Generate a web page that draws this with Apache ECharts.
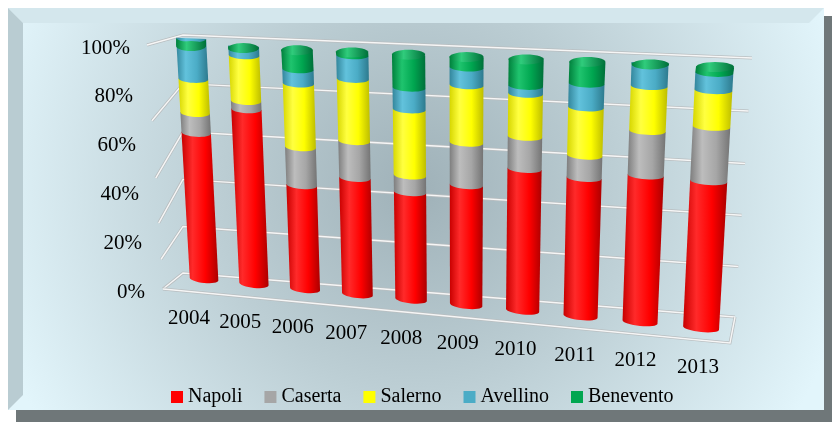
<!DOCTYPE html>
<html>
<head>
<meta charset="utf-8">
<script src="https://cdn.jsdelivr.net/npm/echarts@6/dist/echarts.min.js"></script>
<style>
  html, body { margin: 0; padding: 0; background: #fff; }
  #main { width: 832px; height: 422px; }
</style>
</head>
<body>
<div id="main"></div>
<script>
// dati: quota percentuale per provincia
var years = ['2004', '2005', '2006', '2007', '2008', '2009', '2010', '2011', '2012', '2013'];
var cityNames = ['Napoli', 'Caserta', 'Salerno', 'Avellino', 'Benevento'];
var napoli    = [61.6, 72.4, 43.2, 47.7, 43.6, 48.0, 55.8, 53.9, 56.4, 55.8];
var caserta   = [ 8.1,  3.3, 15.3, 14.6,  6.6, 16.4, 12.2,  8.4, 16.4, 19.8];
var salerno   = [13.7, 18.0, 25.2, 24.2, 25.7, 21.8, 16.1, 17.9, 16.3, 13.1];
var avellino  = [16.1,  3.6,  5.5,  9.0,  8.3,  6.6,  2.9,  8.7,  8.3,  6.1];
var benevento = [ 0.5,  2.7, 10.8,  4.5, 15.8,  7.2, 13.0, 11.1,  2.6,  5.2];
var yTicks = [0, 20, 40, 60, 80, 100];

var cityValues = [napoli, caserta, salerno, avellino, benevento];
var baseColors = ['#ff0000', '#a6a6a6', '#ffff00', '#4bacc6', '#00a650'];
var shades = [
    ['#c80000', '#ff2a2a', '#ff0000', '#ac0000'],
    ['#7e7e7e', '#bdbdbd', '#a6a6a6', '#747474'],
    ['#d6d600', '#ffff40', '#ffff00', '#bdbd00'],
    ['#33869c', '#62c2dc', '#4bacc6', '#2d7a8e'],
    ['#00803c', '#1fc46e', '#00a650', '#00703a']
];
var caps = ['#ff5050', '#c8c8c8', '#ffff80', '#7cd0e6', '#30cc7c'];
var FONT = '"Liberation Serif", "Times New Roman", serif';

// prospettiva (vista 3D di Excel): quadrilateri sullo schermo
var barQuad  = [[204, 283], [701, 332], [715, 62], [191, 41]];
var backWall = [[183, 273], [735, 317], [752, 58], [183, 35]];
var leftWall = [[163, 289], [183, 273], [183, 35], [147, 45]];
var floorFrontRight = [730, 343];
var RY = 4;
var CAP_RY = 5;
var HALF = 0.29;

function homography(q) {
    var x0 = q[0][0], y0 = q[0][1], x1 = q[1][0], y1 = q[1][1];
    var x2 = q[2][0], y2 = q[2][1], x3 = q[3][0], y3 = q[3][1];
    var dx1 = x1 - x2, dx2 = x3 - x2, dx3 = x0 - x1 + x2 - x3;
    var dy1 = y1 - y2, dy2 = y3 - y2, dy3 = y0 - y1 + y2 - y3;
    var det = dx1 * dy2 - dx2 * dy1;
    var g = (dx3 * dy2 - dx2 * dy3) / det, h = (dx1 * dy3 - dx3 * dy1) / det;
    var a = x1 - x0 + g * x1, b = x3 - x0 + h * x3;
    var d = y1 - y0 + g * y1, e = y3 - y0 + h * y3;
    return function (u, w) {
        var z = g * u + h * w + 1;
        return [(a * u + b * w + x0) / z, (d * u + e * w + y0) / z];
    };
}
var barH = homography(barQuad);
var backH = homography(backWall);
var leftH = homography(leftWall);

// posizione normalizzata dagli assi (categoria, valore)
function toUnit(api, c, v) {
    var p = api.coord([c, v]);
    var o = api.coord([0, 0]);
    var q = api.coord([years.length - 1, 100]);
    return [(p[0] - o[0]) / (q[0] - o[0]), (o[1] - p[1]) / (o[1] - q[1])];
}

function shadeFill(k) {
    var s = shades[k];
    return new echarts.graphic.LinearGradient(0, 0, 1, 0, [
        {offset: 0, color: s[0]}, {offset: 0.3, color: s[1]},
        {offset: 0.65, color: s[2]}, {offset: 1, color: s[3]}
    ]);
}

function makeRender(k) {
    return function (params, api) {
        var c = api.value(0), v0 = api.value(1), v1 = api.value(2), isTop = api.value(3);
        var a = toUnit(api, c, v0), b = toUnit(api, c, v1);
        var du = HALF / (years.length - 1);
        var L0 = barH(a[0] - du, a[1]), R0 = barH(a[0] + du, a[1]);
        var L1 = barH(b[0] - du, b[1]), R1 = barH(b[0] + du, b[1]);
        var off = isTop ? CAP_RY : -RY;
        var pts = [[L1[0], L1[1] + off], [R1[0], R1[1] + off]];
        var n = 16, i, th, f;
        for (i = 0; i <= n; i++) {
            th = Math.PI * i / n;
            f = (1 - Math.cos(th)) / 2;
            pts.push([R0[0] + (L0[0] - R0[0]) * f,
                      R0[1] + (L0[1] - R0[1]) * f - RY + RY * Math.sin(th)]);
        }
        var children = [{type: 'polygon', shape: {points: pts}, style: {fill: shadeFill(k)}}];
        if (isTop) {
            var cap = [];
            var cx = (L1[0] + R1[0]) / 2, cy = (L1[1] + R1[1]) / 2 + CAP_RY, rx = (R1[0] - L1[0]) / 2;
            for (i = 0; i < 28; i++) {
                th = 2 * Math.PI * i / 28;
                cap.push([cx + rx * Math.cos(th), cy + CAP_RY * Math.sin(th)]);
            }
            children.push({
                type: 'polygon', shape: {points: cap},
                style: {fill: new echarts.graphic.LinearGradient(0, 0, 1, 0, [
                    {offset: 0, color: shades[k][0]}, {offset: 0.35, color: caps[k]},
                    {offset: 1, color: shades[k][3]}])}
            });
        }
        return {type: 'group', children: children};
    };
}

function renderGrid(params, api) {
    var v = api.value(1);
    var p = api.coord([0, v]), o = api.coord([0, 0]), t = api.coord([0, 100]);
    var w = (o[1] - p[1]) / (o[1] - t[1]);
    var lines = [[leftH(0, w), backH(0, w), backH(1, w)]];
    if (v === 0) {
        lines.push([leftH(0, 0), floorFrontRight, backH(1, 0)]);
    }
    var children = [];
    lines.forEach(function (pts) {
        children.push({type: 'polyline', shape: {points: pts}, style: {stroke: '#b9bec0', lineWidth: 3, fill: null}});
        children.push({type: 'polyline', shape: {points: pts}, style: {stroke: '#f6f6f6', lineWidth: 1.4, fill: null}});
    });
    return {type: 'group', children: children};
}

function renderYear(params, api) {
    var u = toUnit(api, api.value(0), 0)[0];
    var p = barH(u, 0);
    return {
        type: 'text',
        x: p[0] - 15 + 12 * u,
        y: p[1] + 35,
        style: {
            text: years[params.dataIndex], fill: '#000',
            font: '21px ' + FONT, align: 'center', verticalAlign: 'middle'
        }
    };
}

var series = [{
    type: 'custom', name: 'grid', xAxisIndex: 1, yAxisIndex: 1, silent: true, z: 1,
    data: yTicks.map(function (v) { return [0, v]; }),
    renderItem: renderGrid
}];

cityNames.forEach(function (name, k) {
    var data = years.map(function (y, i) {
        var total = 0, start = 0, j;
        for (j = 0; j < cityValues.length; j++) total += cityValues[j][i];
        for (j = 0; j < k; j++) start += cityValues[j][i];
        return [i, start / total * 100, (start + cityValues[k][i]) / total * 100,
                k === cityNames.length - 1 ? 1 : 0];
    });
    series.push({
        type: 'custom', name: name, xAxisIndex: 0, yAxisIndex: 0, z: 2,
        itemStyle: {color: baseColors[k]},
        encode: {x: 0, y: [1, 2]},
        data: data,
        renderItem: makeRender(k)
    });
});

series.push({
    type: 'custom', name: 'years', xAxisIndex: 0, yAxisIndex: 0, silent: true, z: 3,
    data: years.map(function (y, i) { return [i, 0]; }),
    renderItem: renderYear
});

var rich = {};
yTicks.forEach(function (v) {
    rich['t' + v] = {fontFamily: FONT, fontSize: 21, color: '#000', padding: [0, v * 0.15, 0, 0]};
});

var chart = echarts.init(document.getElementById('main'));
chart.setOption({
    animation: false,
    graphic: [
        {type: 'rect', z: -10, shape: {x: 16, y: 16, width: 816, height: 406}, style: {fill: '#6f7779'}},
        {type: 'rect', z: -9, shape: {x: 8, y: 8, width: 816, height: 402},
         style: {fill: new echarts.graphic.RadialGradient(0.5, 0.45, 1.1, [
             {offset: 0, color: '#9fb1b8'}, {offset: 0.45, color: '#bcced4'}, {offset: 1, color: '#e2f5fb'}])}},
        {type: 'polygon', z: -8, shape: {points: [[8, 8], [824, 8], [809, 23], [23, 23]]}, style: {fill: '#d4e7ed'}},
        {type: 'polygon', z: -8, shape: {points: [[8, 8], [23, 23], [23, 395], [8, 410]]}, style: {fill: '#b9ccd2'}}
    ],
    legend: {
        data: cityNames, left: 166, top: 382, icon: 'rect',
        itemWidth: 12, itemHeight: 12, itemGap: 22,
        textStyle: {fontFamily: FONT, fontSize: 20, color: '#000'}
    },
    grid: [
        {left: 176, right: 104, top: 41, bottom: 139},
        {left: 150, right: 100, top: 48, bottom: 130}
    ],
    xAxis: [
        {type: 'category', data: years, gridIndex: 0, show: false},
        {type: 'category', data: years, gridIndex: 1, show: false}
    ],
    yAxis: [
        {type: 'value', min: 0, max: 100, gridIndex: 0, show: false},
        {type: 'value', min: 0, max: 100, interval: 20, gridIndex: 1,
         axisLine: {show: false}, axisTick: {show: false}, splitLine: {show: false},
         axisLabel: {margin: 5, formatter: function (v) { return '{t' + v + '|' + v + '%}'; }, rich: rich}}
    ],
    series: series
});
</script>
</body>
</html>
